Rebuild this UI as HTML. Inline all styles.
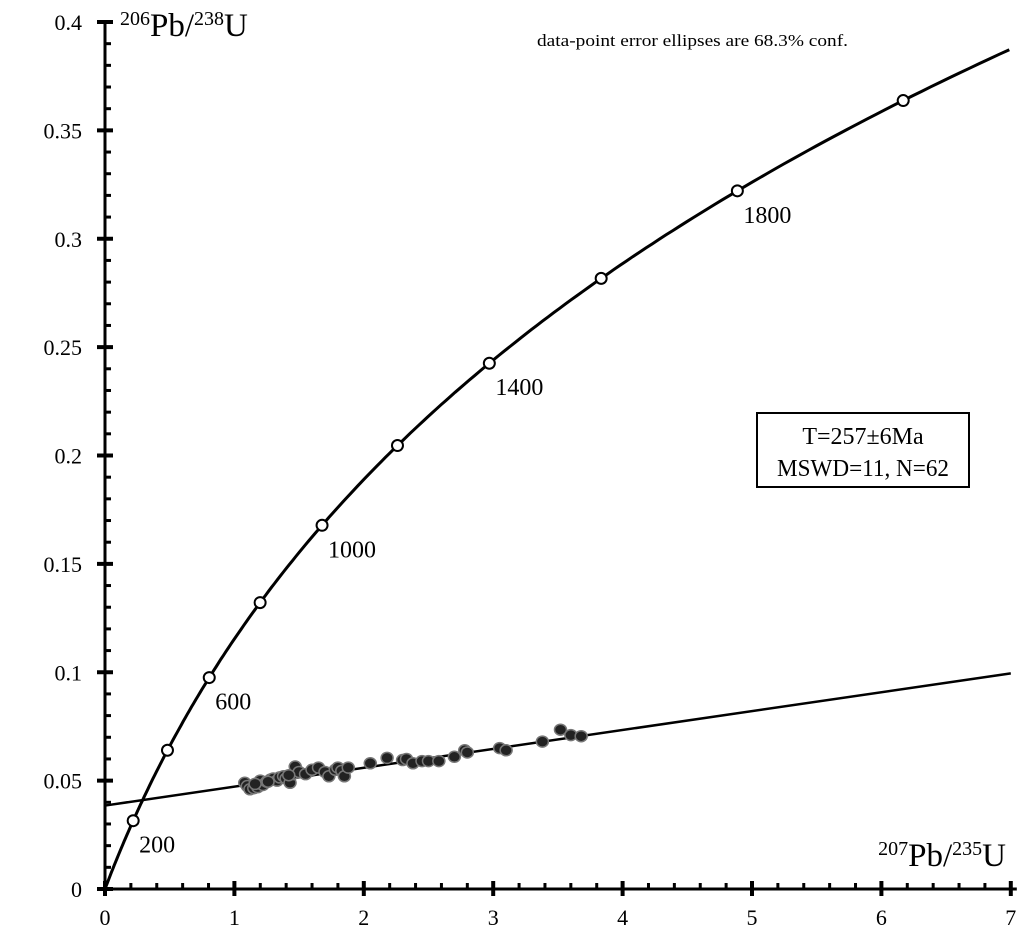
<!DOCTYPE html>
<html><head><meta charset="utf-8"><style>
body{margin:0;background:#fff}
svg{display:block;font-family:"Liberation Serif",serif}
</style></head><body>
<svg id="c" width="1027" height="946"></svg>
<script>
const xTicks=[0,1,2,3,4,5,6,7];
const yTicks=[0,0.05,0.1,0.15,0.2,0.25,0.3,0.35,0.4];
const yTickLabels=["0","0.05","0.1","0.15","0.2","0.25","0.3","0.35","0.4"];
const markerAges=[200,400,600,800,1000,1200,1400,1600,1800,2000];
const labelAges=[200,600,1000,1400,1800];
const discordiaX=[0,7];
const discordiaY=[0.0385,0.0995];
const ptsX=[1.08,1.1,1.12,1.15,1.18,1.2,1.22,1.25,1.28,1.3,1.33,1.35,1.38,1.4,1.43,1.45,1.47,1.5,1.55,1.6,1.65,1.7,1.73,1.78,1.8,1.83,1.85,1.88,2.05,2.18,2.3,2.33,2.38,2.45,2.5,2.58,2.7,2.78,2.8,3.05,3.1,3.38,3.52,3.6,3.68,1.16,1.26,1.42];
const ptsY=[0.049,0.0475,0.046,0.0465,0.047,0.05,0.048,0.0495,0.0505,0.051,0.05,0.0515,0.052,0.051,0.049,0.053,0.0565,0.054,0.053,0.055,0.056,0.054,0.052,0.055,0.056,0.0545,0.052,0.056,0.058,0.0605,0.0595,0.06,0.058,0.059,0.059,0.059,0.061,0.064,0.063,0.065,0.064,0.068,0.0735,0.071,0.0705,0.0485,0.0495,0.0525];
const L238=1.55125e-10,L235=9.8485e-10;
const NS="http://www.w3.org/2000/svg",svg=document.getElementById('c');
const X0=105,XS=129.4,Y0=889,YS=2167.5;
const sx=v=>X0+v*XS, sy=v=>Y0-v*YS;
function el(t,a,txt){const e=document.createElementNS(NS,t);for(const k in a)e.setAttribute(k,a[k]);if(txt!==undefined)e.textContent=txt;svg.appendChild(e);return e;}
let e=el('line',{x1:sx(0),y1:Y0,x2:sx(7)+6,y2:Y0,stroke:'#000','stroke-width':3});

e=el('line',{x1:X0,y1:Y0,x2:X0,y2:sy(0.4),stroke:'#000','stroke-width':3});

for(let i=0;i<=35;i++){const v=i*0.2,x=sx(v),maj=i%5==0;
 el('line',{x1:x,y1:maj?Y0+7:Y0,x2:x,y2:Y0-(maj?8:6),stroke:'#000','stroke-width':maj?4:3});}
xTicks.forEach(v=>{e=el('text',{x:sx(v),y:Y0+36,'font-size':22,'text-anchor':'middle'},String(v));
 });
for(let i=0;i<=40;i++){const v=i*0.01,y=sy(v),maj=i%5==0;
 el('line',{x1:maj?X0-8:X0,y1:y,x2:X0+(maj?8:6),y2:y,stroke:'#000','stroke-width':maj?4:3});}
yTicks.forEach((v,i)=>{e=el('text',{x:82,y:sy(v)+8,'font-size':22,'text-anchor':'end'},yTickLabels[i]);
 });
let d='';for(let t=0;t<=2200e6;t+=10e6){const a=Math.exp(L235*t)-1,b=Math.exp(L238*t)-1;if(a>7.05)break;d+=(d?'L':'M')+sx(a).toFixed(1)+','+sy(b).toFixed(1);}
e=el('path',{d:d,fill:'none',stroke:'#000','stroke-width':3});

e=el('line',{x1:sx(discordiaX[0]),y1:sy(discordiaY[0]),x2:sx(discordiaX[1]),y2:sy(discordiaY[1]),stroke:'#000','stroke-width':2.5});

ptsX.forEach((v,i)=>{e=el('ellipse',{cx:sx(v),cy:sy(ptsY[i]),rx:6,ry:5.5,fill:'#222',stroke:'#777','stroke-width':1.5});
 });
markerAges.forEach(t=>{const a=Math.exp(L235*t*1e6)-1,b=Math.exp(L238*t*1e6)-1;
 e=el('circle',{cx:sx(a),cy:sy(b),r:5.5,fill:'#fff',stroke:'#000','stroke-width':2});
 
 if(labelAges.includes(t)){e=el('text',{x:sx(a)+6,y:sy(b)+32,'font-size':24},String(t));
  }});
e=el('text',{x:120,y:36,'font-size':33});e.innerHTML='<tspan font-size="20" dy="-11">206</tspan><tspan dy="11">Pb/</tspan><tspan font-size="20" dy="-11">238</tspan><tspan dy="11">U</tspan>';

e=el('text',{x:1006,y:866,'font-size':33,'text-anchor':'end'});e.innerHTML='<tspan font-size="20" dy="-11">207</tspan><tspan dy="11">Pb/</tspan><tspan font-size="20" dy="-11">235</tspan><tspan dy="11">U</tspan>';

e=el('text',{x:537,y:46,'font-size':17,textLength:311,lengthAdjust:'spacingAndGlyphs'},'data-point error ellipses are 68.3% conf.');

e=el('rect',{x:757,y:413,width:212,height:74,fill:'#fff',stroke:'#000','stroke-width':2});

e=el('text',{x:863,y:444,'font-size':24,'text-anchor':'middle'},'T=257±6Ma');

e=el('text',{x:863,y:476,'font-size':24,'text-anchor':'middle',textLength:172,lengthAdjust:'spacingAndGlyphs'},'MSWD=11, N=62');

</script>
</body></html>
